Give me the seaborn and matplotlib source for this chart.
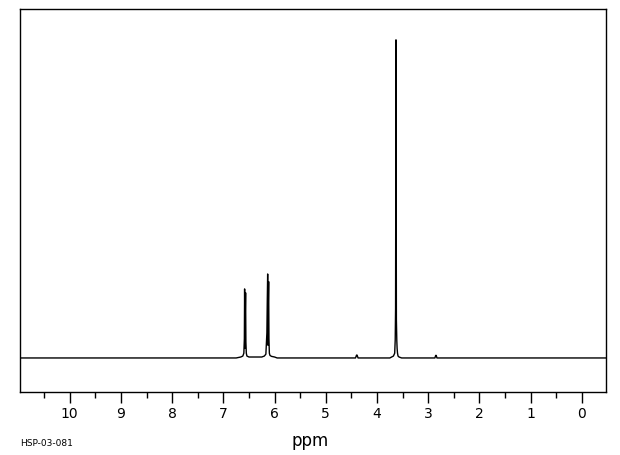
import matplotlib
matplotlib.use("Agg")
import matplotlib.pyplot as plt
import seaborn as sns
import pandas as pd
from matplotlib.ticker import MultipleLocator

# Spectrum trace (chemical shift in ppm, relative intensity)
ppm = [10.97, 6.75, 6.66, 6.62, 6.600, 6.590, 6.585, 6.578, 6.572, 6.566, 6.560, 6.552,
       6.54, 6.50, 6.25, 6.20, 6.17, 6.150, 6.142, 6.135, 6.128, 6.122, 6.116, 6.110,
       6.102, 6.09, 6.06, 6.00, 5.95, 4.42, 4.40, 4.39, 4.37, 3.75, 3.68, 3.655,
       3.645, 3.638, 3.630, 3.622, 3.614, 3.608, 3.600, 3.59, 3.57, 3.52, 2.87,
       2.855, 2.845, 2.83, -0.47]
intensity = [0.0, 0.0, 0.3, 0.6, 1.5, 6.0, 21.7, 3.0, 14.2, 20.5, 5.0, 1.5,
             0.6, 0.3, 0.3, 0.6, 1.2, 7.9, 18.6, 26.4, 4.0, 18.0, 24.0, 6.0,
             1.5, 0.8, 0.5, 0.3, 0.0, 0.0, 0.9, 0.9, 0.0, 0.0, 0.6, 1.5,
             5.7, 15.4, 100.0, 12.0, 5.5, 3.0, 1.5, 0.6, 0.3, 0.0, 0.0,
             0.8, 0.8, 0.0, 0.0]

major_ticks = [10, 9, 8, 7, 6, 5, 4, 3, 2, 1, 0]
tick_labels = ["10", "9", "8", "7", "6", "5", "4", "3", "2", "1", "0"]

df = pd.DataFrame({"ppm": ppm, "intensity": intensity})

sns.set_theme(style="white")
plt.rcParams["font.family"] = ["DejaVu Sans"]
plt.rcParams["text.color"] = "black"
plt.rcParams["xtick.color"] = "black"

fig = plt.figure(figsize=(6.2, 4.55), dpi=100)
ax = fig.add_axes([20 / 620, 1 - 392 / 455, 586 / 620, 383 / 455])

sns.lineplot(data=df, x="ppm", y="intensity", sort=False, estimator=None,
             color="black", linewidth=1.0, ax=ax)

ax.set_xlim(10.97, -0.47)
ax.set_ylim(-10.7, 109.7)

for side in ["left", "right", "top", "bottom"]:
    ax.spines[side].set_visible(True)
    ax.spines[side].set_color("black")
    ax.spines[side].set_linewidth(1.0)

ax.set_xticks(major_ticks)
ax.set_xticklabels(tick_labels, fontsize=10, color="black")
ax.xaxis.set_minor_locator(MultipleLocator(0.5))
ax.tick_params(axis="x", which="major", direction="out", length=8, width=1,
               color="black", bottom=True, pad=3)
ax.tick_params(axis="x", which="minor", direction="out", length=4, width=1,
               color="black", bottom=True)
ax.set_yticks([])
ax.set_xlabel("")
ax.set_ylabel("")

fig.text(310 / 620, 1 - 441 / 455, "ppm", ha="center", va="center", fontsize=12)
fig.text(20 / 620, 1 - 443 / 455, "HSP-03-081", ha="left", va="center", fontsize=6.5)

fig.savefig("out.png", dpi=100)
